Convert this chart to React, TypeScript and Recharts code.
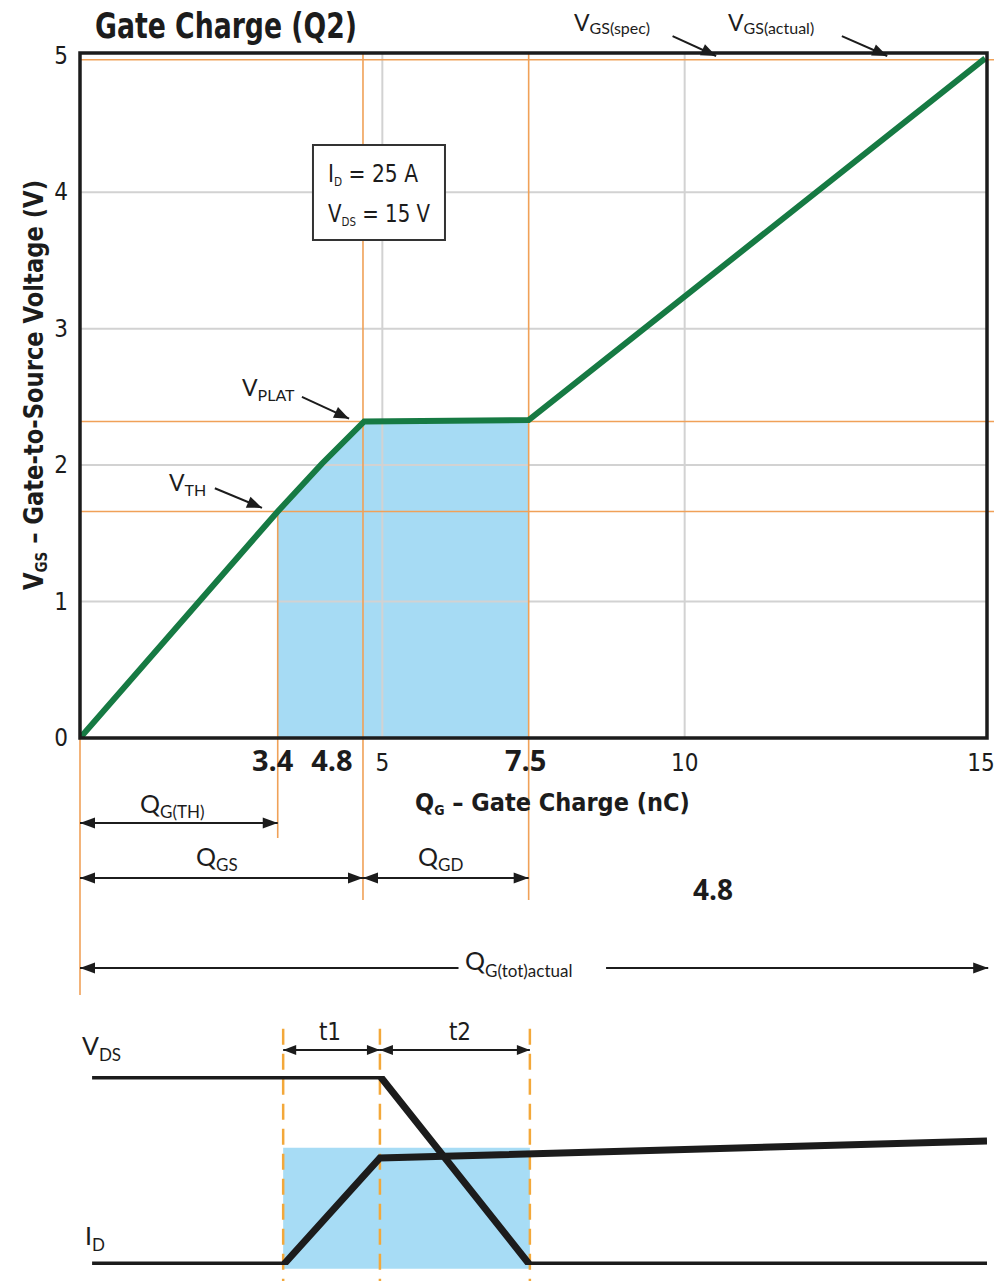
import React from 'react';
import {
  ComposedChart,
  LineChart,
  Line,
  Area,
  XAxis,
  YAxis,
  ReferenceLine,
  ReferenceArea,
} from 'recharts';

// ---------- data ----------
const gateCurve = [
  { q: 0, v: 0 },
  { q: 3.27, v: 1.66 },
  { q: 4.0, v: 2.01 },
  { q: 4.7, v: 2.32 },
  { q: 7.42, v: 2.33 },
  { q: 14.97, v: 4.98 },
];
const shadedCurve = [
  { q: 3.27, v: 1.66 },
  { q: 4.0, v: 2.01 },
  { q: 4.7, v: 2.32 },
  { q: 7.42, v: 2.33 },
];
const qTh = 3.27;
const qGs = 4.68;
const qGd = 7.42;
const vTh = 1.66;
const vPlat = 2.32;
const vActual = 4.97;

const xTickValues = [3.27, 4.68, 5, 7.42, 10, 15];
const xTickLabels = ['3.4', '4.8', '5', '7.5', '10', '15'];
const xTickBold = [true, true, false, true, false, false];
const xTickShift = [-5, -31, 0, -3, 0, -6];
const yTickValues = [0, 1, 2, 3, 4, 5];
const yGridValues = [1, 2, 3, 4];
const xGridValues = [5, 10];

// bottom waveform
const vdsWave = [
  { t: 0.2, v: 1 },
  { t: 4.96, v: 1 },
  { t: 7.44, v: 0 },
  { t: 15, v: 0 },
];
const idWave = [
  { t: 0.2, v: 0 },
  { t: 3.36, v: 0 },
  { t: 4.96, v: 0.566 },
  { t: 15, v: 0.656 },
];
const tMarks = [3.36, 4.96, 7.44];

// ---------- styles ----------
const COND = "'Liberation Sans Narrow','DejaVu Sans Condensed','Roboto Condensed','Liberation Sans',sans-serif";
const GEO = "Lato,'Noto Sans',sans-serif";
const BOLDNUM = "'Open Sans','Noto Sans',sans-serif";
const ORANGE = '#f0a158';
const GRID = '#d2d2d2';
const GREEN = '#167a43';
const BLUE = '#a7dcf5';
const INK = '#1c1c1c';

const arrowShape =
  (startHead: boolean, endHead: boolean, len = 15, half = 5.5, sw = 2) =>
  (p: any) => {
    const { x1, y1, x2, y2 } = p;
    const a = Math.atan2(y2 - y1, x2 - x1);
    const head = (x: number, y: number, ang: number) => {
      const bx = x - len * Math.cos(ang);
      const by = y - len * Math.sin(ang);
      const px = -Math.sin(ang) * half;
      const py = Math.cos(ang) * half;
      return `${x},${y} ${bx + px},${by + py} ${bx - px},${by - py}`;
    };
    return (
      <g>
        <line x1={x1} y1={y1} x2={x2} y2={y2} stroke={INK} strokeWidth={sw} />
        {endHead && <polygon points={head(x2, y2, a)} fill={INK} />}
        {startHead && <polygon points={head(x1, y1, a + Math.PI)} fill={INK} />}
      </g>
    );
  };

const renderXTick = (props: any) => {
  const { x, y, payload } = props;
  const i = xTickValues.findIndex((v) => Math.abs(v - payload.value) < 1e-6);
  if (i < 0) return <g />;
  const bold = xTickBold[i];
  return (
    <text
      x={x + xTickShift[i]}
      y={y + 33}
      textAnchor="middle"
      fontFamily={bold ? BOLDNUM : COND}
      fontWeight={bold ? 700 : 400}
      fontSize={bold ? 29 : 24}
      fill={INK}
    >
      {xTickLabels[i]}
    </text>
  );
};

const renderYTick = (props: any) => {
  const { x, y, payload } = props;
  return (
    <text x={x - 12} y={y + 8} textAnchor="end" fontFamily={COND} fontSize={24} fill={INK}>
      {payload.value}
    </text>
  );
};

export default function App() {
  const orange = { stroke: ORANGE, strokeWidth: 1.6, ifOverflow: 'visible' as const, zIndex: 200 };
  return (
    <div style={{ position: 'absolute', left: 0, top: 0, width: 994, height: 1281, background: '#fff' }}>
      <div style={{ position: 'absolute', left: 0, top: 0 }}>
        <ComposedChart width={994} height={1000} margin={{ top: 53, right: 7, bottom: 212, left: 0 }}>
          <XAxis
            dataKey="q"
            type="number"
            domain={[0, 15]}
            ticks={xTickValues}
            tick={renderXTick}
            tickLine={false}
            axisLine={false}
            tickSize={0}
            tickMargin={0}
            height={50}
            interval={0}
            allowDataOverflow
          />
          <YAxis
            type="number"
            domain={[0, 5.02]}
            ticks={yTickValues}
            tick={renderYTick}
            tickLine={false}
            axisLine={false}
            tickSize={0}
            tickMargin={0}
            width={80}
            interval={0}
            allowDataOverflow
          />
          <Area
            data={shadedCurve}
            dataKey="v"
            type="linear"
            stroke="none"
            fill="#93d3f2"
            fillOpacity={0.82}
            baseValue={0}
            isAnimationActive={false}
            zIndex={100}
          />
          {yGridValues.map((v) => (
            <ReferenceLine key={'gy' + v} y={v} stroke={GRID} strokeWidth={2} ifOverflow="visible" zIndex={150} />
          ))}
          {xGridValues.map((v) => (
            <ReferenceLine key={'gx' + v} x={v} stroke={GRID} strokeWidth={2} ifOverflow="visible" zIndex={150} />
          ))}
          {/* orange guide lines */}
          <ReferenceLine segment={[{ x: 0, y: vTh }, { x: 15.12, y: vTh }]} {...orange} />
          <ReferenceLine segment={[{ x: 0, y: vPlat }, { x: 15.12, y: vPlat }]} {...orange} />
          <ReferenceLine segment={[{ x: 0, y: vActual }, { x: 15.12, y: vActual }]} {...orange} />
          <ReferenceLine segment={[{ x: 0, y: 0 }, { x: 0, y: -1.883 }]} {...orange} />
          <ReferenceLine segment={[{ x: qTh, y: vTh }, { x: qTh, y: -0.733 }]} {...orange} />
          <ReferenceLine segment={[{ x: qGs, y: 5.02 }, { x: qGs, y: -1.187 }]} {...orange} />
          <ReferenceLine segment={[{ x: qGd, y: 5.02 }, { x: qGd, y: -1.187 }]} {...orange} />
          <Line
            data={gateCurve}
            dataKey="v"
            type="linear"
            stroke={GREEN}
            strokeWidth={6}
            dot={false}
            isAnimationActive={false}
            zIndex={300}
          />
          {/* frame */}
          <ReferenceArea x1={0} x2={15} y1={0} y2={5.02} fill="none" stroke={INK} strokeWidth={3.5} ifOverflow="visible" zIndex={350} />
          {/* conditions box */}
          <ReferenceArea x1={3.853} x2={6.036} y1={3.65} y2={4.346} fill="#fff" fillOpacity={1} stroke="#333" strokeWidth={2} ifOverflow="visible" zIndex={360} />
          {/* pointer arrows */}
          <ReferenceLine segment={[{ x: 9.8, y: 5.144 }, { x: 10.52, y: 4.998 }]} shape={arrowShape(false, true, 15, 6, 2)} ifOverflow="visible" zIndex={400} />
          <ReferenceLine segment={[{ x: 12.6, y: 5.144 }, { x: 13.35, y: 4.998 }]} shape={arrowShape(false, true, 15, 6, 2)} ifOverflow="visible" zIndex={400} />
          <ReferenceLine segment={[{ x: 3.67, y: 2.5 }, { x: 4.45, y: 2.34 }]} shape={arrowShape(false, true, 15, 6, 2)} ifOverflow="visible" zIndex={400} />
          <ReferenceLine segment={[{ x: 2.23, y: 1.83 }, { x: 3.01, y: 1.686 }]} shape={arrowShape(false, true, 15, 6, 2)} ifOverflow="visible" zIndex={400} />
          {/* charge dimension arrows */}
          <ReferenceLine segment={[{ x: 0, y: -0.623 }, { x: qTh, y: -0.623 }]} shape={arrowShape(true, true)} ifOverflow="visible" zIndex={400} />
          <ReferenceLine segment={[{ x: 0, y: -1.026 }, { x: qGs, y: -1.026 }]} shape={arrowShape(true, true)} ifOverflow="visible" zIndex={400} />
          <ReferenceLine segment={[{ x: qGs, y: -1.026 }, { x: qGd, y: -1.026 }]} shape={arrowShape(true, true)} ifOverflow="visible" zIndex={400} />
          <ReferenceLine segment={[{ x: 0, y: -1.686 }, { x: 6.26, y: -1.686 }]} shape={arrowShape(true, false)} ifOverflow="visible" zIndex={400} />
          <ReferenceLine segment={[{ x: 8.7, y: -1.686 }, { x: 15.02, y: -1.686 }]} shape={arrowShape(false, true)} ifOverflow="visible" zIndex={400} />
        </ComposedChart>
      </div>

      <div style={{ position: 'absolute', left: 0, top: 1000 }}>
        <LineChart width={994} height={281} margin={{ top: 76, right: 7, bottom: 16, left: 80 }}>
          <XAxis dataKey="t" type="number" domain={[0, 15]} hide allowDataOverflow />
          <YAxis type="number" domain={[0, 1]} hide width={0} allowDataOverflow />
          <ReferenceArea x1={tMarks[0]} x2={tMarks[2]} y1={-0.02} y2={0.62} fill={BLUE} fillOpacity={1} stroke="none" ifOverflow="visible" />
          {tMarks.map((t) => (
            <ReferenceLine
              key={'tm' + t}
              segment={[{ x: t, y: 1.25 }, { x: t, y: -0.1 }]}
              stroke="#f3a83a"
              strokeWidth={2.5}
              strokeDasharray="16 9"
              ifOverflow="visible"
            />
          ))}
          <Line data={vdsWave} dataKey="v" type="linear" stroke={INK} strokeWidth={7} dot={false} isAnimationActive={false} />
          <Line data={idWave} dataKey="v" type="linear" stroke={INK} strokeWidth={7} dot={false} isAnimationActive={false} />
          <ReferenceLine segment={[{ x: tMarks[0], y: 1.138 }, { x: tMarks[1], y: 1.138 }]} shape={arrowShape(true, true, 13, 5, 2)} ifOverflow="visible" />
          <ReferenceLine segment={[{ x: tMarks[1], y: 1.138 }, { x: tMarks[2], y: 1.138 }]} shape={arrowShape(true, true, 13, 5, 2)} ifOverflow="visible" />
        </LineChart>
      </div>

      {/* text overlay */}
      <svg width={994} height={1281} style={{ position: 'absolute', left: 0, top: 0, pointerEvents: 'none' }}>
        <text x={95} y={38} fontFamily={COND} fontWeight={700} fontSize={36} fill={INK} textLength={262} lengthAdjust="spacingAndGlyphs">
          Gate Charge (Q2)
        </text>
        <g transform="translate(43,385) rotate(-90)">
          <text x={0} y={0} textAnchor="middle" fontFamily={COND} fontWeight={700} fontSize={27} fill={INK} textLength={410} lengthAdjust="spacingAndGlyphs">
            V<tspan fontSize={16} dy={4}>GS</tspan>
            <tspan dy={-4}> – Gate-to-Source Voltage (V)</tspan>
          </text>
        </g>
        <text x={415} y={811} fontFamily={COND} fontWeight={700} fontSize={25} fill={INK}>
          Q<tspan fontSize={14} dy={4}>G</tspan>
          <tspan dy={-4}> – Gate Charge (nC)</tspan>
        </text>
        {/* condition box text */}
        <text x={328} y={182} fontFamily={COND} fontSize={25} fill={INK} textLength={90} lengthAdjust="spacingAndGlyphs">
          I<tspan fontSize={13} dy={4}>D</tspan>
          <tspan dy={-4}> = 25 A</tspan>
        </text>
        <text x={328} y={222} fontFamily={COND} fontSize={25} fill={INK} textLength={102} lengthAdjust="spacingAndGlyphs">
          V<tspan fontSize={13} dy={4}>DS</tspan>
          <tspan dy={-4}> = 15 V</tspan>
        </text>
        {/* pointer labels */}
        <text x={574} y={31} fontFamily={GEO} fontSize={23} fill={INK}>
          V<tspan fontSize={16} dy={3}>GS(spec)</tspan>
        </text>
        <text x={728} y={31} fontFamily={GEO} fontSize={23} fill={INK}>
          V<tspan fontSize={16} dy={3}>GS(actual)</tspan>
        </text>
        <text x={242} y={396} fontFamily={GEO} fontSize={23} fill={INK}>
          V<tspan fontSize={16} dy={5}>PLAT</tspan>
        </text>
        <text x={169} y={491} fontFamily={GEO} fontSize={23} fill={INK}>
          V<tspan fontSize={16} dy={5}>TH</tspan>
        </text>
        {/* charge labels */}
        <text x={140} y={813} fontFamily={GEO} fontSize={25} fill={INK}>
          Q<tspan fontSize={17} dy={5}>G(TH)</tspan>
        </text>
        <text x={196} y={866} fontFamily={GEO} fontSize={25} fill={INK}>
          Q<tspan fontSize={17} dy={5}>GS</tspan>
        </text>
        <text x={418} y={866} fontFamily={GEO} fontSize={25} fill={INK}>
          Q<tspan fontSize={17} dy={5}>GD</tspan>
        </text>
        <text x={713} y={900} textAnchor="middle" fontFamily={BOLDNUM} fontWeight={700} fontSize={28} fill={INK}>
          4.8
        </text>
        <text x={465} y={970} fontFamily={GEO} fontSize={25} fill={INK}>
          Q<tspan fontSize={17} dy={7}>G(tot)actual</tspan>
        </text>
        {/* waveform labels */}
        <text x={82} y={1055} fontFamily={GEO} fontSize={25} fill={INK}>
          V<tspan fontSize={17} dy={6}>DS</tspan>
        </text>
        <text x={330} y={1040} textAnchor="middle" fontFamily={COND} fontSize={24} fill={INK}>
          t1
        </text>
        <text x={460} y={1040} textAnchor="middle" fontFamily={COND} fontSize={24} fill={INK}>
          t2
        </text>
        <text x={85} y={1245} fontFamily={GEO} fontSize={25} fill={INK}>
          I<tspan fontSize={17} dy={6}>D</tspan>
        </text>
      </svg>
    </div>
  );
}
